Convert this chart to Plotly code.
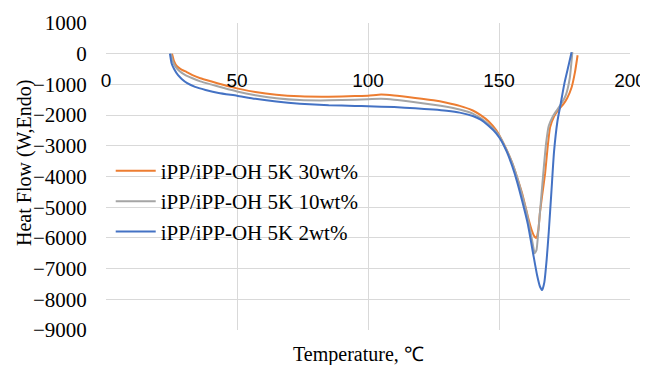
import plotly.graph_objects as go

# ---- data ----
names = ["iPP/iPP-OH 5K 30wt%", "iPP/iPP-OH 5K 10wt%", "iPP/iPP-OH 5K 2wt%"]
colors = ["#ED7D31", "#A5A5A5", "#4472C4"]

t_30 = [25.2, 26, 27, 28.5, 30.8, 33, 36, 40, 45, 50, 57, 65, 74, 85, 95, 100, 105, 110, 118, 125,
        130, 135, 140, 143, 146, 149, 151, 153, 155, 157, 159, 161, 162.5, 163.5, 164.2, 165, 165.6,
        166.5, 167.6, 168.5, 169.5, 171, 172.5, 174.5, 176, 177.7, 179, 180]
hf_30 = [0, -250, -400, -500, -600, -700, -800, -900, -1020, -1130, -1250, -1340, -1390, -1400, -1380,
         -1370, -1330, -1360, -1440, -1520, -1600, -1700, -1850, -2000, -2200, -2500, -2800, -3150,
         -3550, -4050, -4600, -5300, -5750, -5950, -6000, -5750, -5200, -4600, -3900, -3100, -2400,
         -2050, -1850, -1650, -1450, -1100, -600, -50]

t_10 = [24.8, 25.5, 26.5, 28, 30, 33, 36, 40, 45, 50, 57, 65, 74, 85, 95, 100, 105, 110, 118, 125,
        130, 135, 140, 143, 146, 149, 151, 153, 155, 157, 159, 160.5, 162, 163, 163.6, 164.3, 165,
        166, 167, 168, 169, 170.5, 172, 174, 175.5, 177, 178]
hf_10 = [0, -250, -420, -560, -680, -800, -900, -1000, -1120, -1230, -1350, -1450, -1510, -1520, -1500,
         -1480, -1470, -1500, -1580, -1660, -1730, -1820, -1950, -2100, -2300, -2550, -2800, -3150,
         -3550, -4050, -4650, -5150, -5800, -6250, -6500, -6400, -5800, -4800, -3800, -2900, -2350,
         -2050, -1850, -1600, -1350, -800, 50]

t_2 = [24.4, 25, 26, 27.5, 29, 31, 34, 38, 43, 50, 57, 65, 74, 85, 95, 100, 110, 118, 125, 130, 135,
       140, 143, 146, 149, 151, 153, 155, 157, 159, 161, 163, 164.5, 165.7, 166.5, 167.3, 168.2, 169,
       170, 171, 172.3, 173.5, 175, 176.5, 177.7]
hf_2 = [0, -300, -500, -700, -830, -960, -1080, -1180, -1280, -1370, -1470, -1560, -1630, -1680, -1700,
        -1710, -1740, -1780, -1820, -1860, -1920, -2030, -2150, -2350, -2600, -2850, -3200, -3650,
        -4200, -4850, -5550, -6500, -7200, -7600, -7700, -7450, -6700, -5800, -4500, -3200, -2200,
        -1650, -950, -400, 50]

x_ticks = [0, 50, 100, 150, 200]
y_ticks = list(range(-9000, 1001, 1000))

series = [(t_30, hf_30), (t_10, hf_10), (t_2, hf_2)]

fig = go.Figure()
for i, ((tx, hy), nm, col) in enumerate(zip(series, names, colors)):
    fig.add_trace(go.Scatter(
        x=tx, y=hy, mode="lines", name=nm,
        line=dict(color=col, width=2, shape="spline", smoothing=0.5),
    ))

serif = "Liberation Serif, Times New Roman, serif"
grid = "#D9D9D9"

fig.update_layout(
    width=640, height=357,
    margin=dict(l=98, r=18, t=15, b=35, autoexpand=False),
    paper_bgcolor="white", plot_bgcolor="white",
    font=dict(family=serif, size=21, color="black"),
    showlegend=True,
    legend=dict(
        x=0.009, y=0.584, xanchor="left", yanchor="top",
        bgcolor="rgba(0,0,0,0)", font=dict(family=serif, size=21, color="black"),
        tracegroupgap=0, itemwidth=40,
    ),
    xaxis=dict(
        range=[0, 200], tickvals=x_ticks, showgrid=True, gridcolor=grid, gridwidth=1,
        zeroline=False, showline=False, anchor="free", position=0.9, automargin=False,
        ticks="outside", ticklen=9, tickcolor="rgba(0,0,0,0)",
        tickfont=dict(family="Liberation Sans, Arial, sans-serif", size=19, color="black"),
    ),
    yaxis=dict(
        range=[-9000, 1000], tickvals=y_ticks, showgrid=True, gridcolor=grid, gridwidth=1,
        zeroline=False, showline=False, automargin=False,
        ticks="outside", ticklen=14, tickcolor="rgba(0,0,0,0)",
        tickfont=dict(family=serif, size=21, color="black"),
    ),
    annotations=[
        dict(text="Temperature, ℃", xref="paper", yref="paper", x=0.481, y=-0.0814,
             xanchor="center", yanchor="middle", showarrow=False,
             font=dict(family=serif, size=20, color="black")),
        dict(text="Heat Flow (W,Endo)", xref="paper", yref="paper", x=-0.1546, y=0.544,
             xanchor="center", yanchor="middle", textangle=-90, showarrow=False,
             font=dict(family=serif, size=20, color="black")),
    ],
)

fig.write_html("out.html")
